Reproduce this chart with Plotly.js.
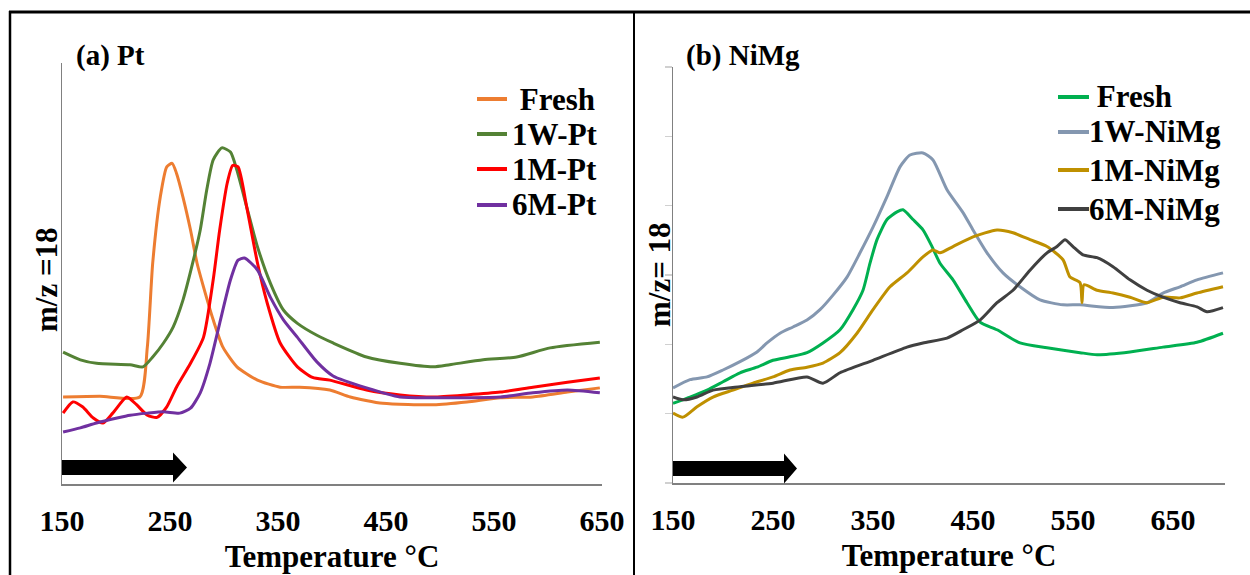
<!DOCTYPE html>
<html>
<head>
<meta charset="utf-8">
<script src="https://cdn.plot.ly/plotly-3.0.1.min.js"></script>
<style>html,body{margin:0;padding:0;background:#fff;}#chart{width:1250px;height:575px;}</style>
</head>
<body>
<div id="chart"></div>
<script>
// ---------- Panel (a) Pt : temperature (°C) and m/z=18 signal (arbitrary units) ----------
const PT_FRESH_T = [151,185,222,229,234,241,247,252,256,262,269,275,281,290,299,312,331,352,370,398,417,447,494,525,556,586,618,648];
const PT_FRESH_V = [12.4,12.5,12.4,19.5,31.5,40.9,45.2,45.7,44.3,40.9,36.2,31.5,28.1,23.4,19.5,16.7,14.8,13.8,13.8,13.4,12.4,11.5,11.3,11.7,12.3,12.4,13.1,13.7];

const PT_1W_T = [151,167,182,213,225,234,244,253,262,271,278,284,290,298,306,312,321,331,343,355,368,386,401,432,463,494,509,540,571,602,648];
const PT_1W_V = [18.8,17.7,17.2,17.0,16.7,18.1,20.1,22.4,26.2,31.5,36.2,41.9,46.2,47.9,47.3,44.7,39.5,33.8,28.6,24.8,22.9,21.2,20.1,18.1,17.2,16.7,17.0,17.7,18.1,19.4,20.2];

const PT_1M_T = [151,160,169,179,188,197,210,219,229,238,247,256,269,281,290,296,303,308,313,321,331,340,352,368,382,398,432,463,494,525,556,586,618,648];
const PT_1M_V = [10.1,11.7,11.0,9.4,8.7,10.1,12.4,11.3,9.8,9.5,11.0,13.8,17.2,20.9,29.1,36.2,42.9,45.4,45.2,39.5,31.5,25.8,20.1,16.7,15.2,14.8,13.4,12.7,12.4,12.7,13.1,13.8,14.5,15.1];

const PT_6M_T = [151,167,182,201,213,229,244,259,269,278,287,296,306,313,319,331,343,355,368,386,401,432,463,494,525,556,586,618,648];
const PT_6M_V = [7.4,8.0,8.7,9.4,9.8,10.1,10.3,10.1,10.8,13.0,17.2,22.9,29.1,31.9,32.2,30.5,26.6,23.4,20.9,17.4,15.4,13.7,12.4,12.3,12.3,12.4,13.0,13.4,13.0];

const PT_NAMES = ['\u00A0Fresh','1W-Pt','1M-Pt','6M-Pt'];
const PT_COLORS = ['#ED7D31','#548235','#FF0000','#7030A0'];

// ---------- Panel (b) NiMg ----------
const NI_FRESH_T = [150,167,184,200,217,234,250,267,284,300,317,330,340,347,354,364,374,380,390,400,409,417,430,444,457,474,497,524,557,574,607,640,674,700];
const NI_FRESH_V = [1.15,1.24,1.34,1.46,1.59,1.67,1.77,1.82,1.88,2.02,2.21,2.50,2.78,3.17,3.51,3.80,3.91,3.94,3.80,3.65,3.41,3.17,2.93,2.60,2.32,2.21,2.02,1.95,1.88,1.85,1.89,1.96,2.03,2.16];

const NI_1W_T = [150,167,184,200,217,234,244,257,270,284,297,310,324,337,350,364,377,387,400,410,424,440,450,464,480,497,517,540,557,590,624,640,657,674,700];
const NI_1W_V = [1.37,1.49,1.53,1.63,1.75,1.89,2.02,2.16,2.25,2.35,2.50,2.71,2.97,3.32,3.69,4.13,4.56,4.73,4.76,4.66,4.23,3.90,3.65,3.32,3.03,2.83,2.64,2.57,2.57,2.53,2.60,2.74,2.83,2.93,3.03];

const NI_1M_T = [150,160,174,190,210,230,250,267,284,300,317,334,350,367,384,400,410,417,430,450,474,490,507,524,540,547,557,559,561,574,590,607,624,640,657,674,700];
const NI_1M_V = [1.01,0.95,1.10,1.24,1.34,1.44,1.53,1.63,1.67,1.73,1.88,2.16,2.50,2.83,3.03,3.26,3.36,3.32,3.41,3.55,3.65,3.61,3.51,3.41,3.22,2.97,2.89,2.60,2.86,2.78,2.74,2.68,2.60,2.68,2.67,2.74,2.83];

const NI_6M_T = [150,160,174,190,217,250,284,300,317,350,384,400,424,440,457,474,490,507,524,534,542,550,560,574,590,607,624,640,657,674,684,700];
const NI_6M_V = [1.24,1.20,1.24,1.34,1.39,1.44,1.53,1.44,1.59,1.77,1.96,2.02,2.09,2.21,2.35,2.60,2.78,3.07,3.32,3.41,3.51,3.41,3.29,3.25,3.12,2.93,2.78,2.68,2.60,2.54,2.47,2.53];

const NI_NAMES = ['\u00A0Fresh','1W-NiMg','1M-NiMg','6M-NiMg'];
const NI_COLORS = ['#00B050','#8497B0','#BF9000','#404040'];

const X_TICKS = [150,250,350,450,550,650];

// ---------- helpers (pixel -> paper) ----------
const W = 1250, H = 575;
const px = x => x / W;
const py = y => 1 - y / H;
const FONT = 'Liberation Serif, Times New Roman, serif';

function tr(t, v, name, color, xa, ya) {
  return {x: t, y: v, name: name, type: 'scatter', mode: 'lines',
          line: {color: color, width: 3, shape: 'spline', smoothing: 0.6},
          xaxis: xa, yaxis: ya, showlegend: false};
}
const data = [
  tr(PT_FRESH_T, PT_FRESH_V, PT_NAMES[0], PT_COLORS[0], 'x', 'y'),
  tr(PT_1W_T, PT_1W_V, PT_NAMES[1], PT_COLORS[1], 'x', 'y'),
  tr(PT_1M_T, PT_1M_V, PT_NAMES[2], PT_COLORS[2], 'x', 'y'),
  tr(PT_6M_T, PT_6M_V, PT_NAMES[3], PT_COLORS[3], 'x', 'y'),
  tr(NI_FRESH_T, NI_FRESH_V, NI_NAMES[0], NI_COLORS[0], 'x2', 'y2'),
  tr(NI_1W_T, NI_1W_V, NI_NAMES[1], NI_COLORS[1], 'x2', 'y2'),
  tr(NI_1M_T, NI_1M_V, NI_NAMES[2], NI_COLORS[2], 'x2', 'y2'),
  tr(NI_6M_T, NI_6M_V, NI_NAMES[3], NI_COLORS[3], 'x2', 'y2')
];

const tickFont = {family: FONT, size: 30, color: '#000', weight: 'bold'};
const titleFont = {family: FONT, size: 31, color: '#000', weight: 'bold'};

function xAxis(domainPx, range, anchor) {
  return {domain: [px(domainPx[0]), px(domainPx[1])], range: range, anchor: anchor,
    tickvals: X_TICKS, ticktext: X_TICKS.map(String), ticks: '', ticklabelstandoff: 9,
    tickfont: tickFont, showline: true, linecolor: '#808080', linewidth: 1.5,
    showgrid: false, zeroline: false, automargin: false,
    title: {text: 'Temperature °C', font: titleFont, standoff: 10}};
}
function yAxis(domainPx, range, anchor, withTicks) {
  const a = {domain: [py(domainPx[0]), py(domainPx[1])], range: range, anchor: anchor,
    showticklabels: false, showline: true, linecolor: '#808080', linewidth: 1.5,
    showgrid: false, zeroline: false, automargin: false};
  if (withTicks) { a.ticks = 'outside'; a.ticklen = 7; a.tickcolor = '#d0d0d0'; a.tickwidth = 1.5; a.dtick = 1; a.tick0 = 0; }
  else { a.ticks = ''; }
  return a;
}

// legend built by hand so that entries sit exactly where the reference has them
const annotations = [];
const shapes = [];
function legend(names, colors, lineX0, lineX1, textX, ys) {
  names.forEach((n, i) => {
    shapes.push({type: 'line', xref: 'paper', yref: 'paper', x0: px(lineX0), x1: px(lineX1),
      y0: py(ys[i]), y1: py(ys[i]), line: {color: colors[i], width: 4}});
    annotations.push({xref: 'paper', yref: 'paper', x: px(textX), y: py(ys[i]), xanchor: 'left', yanchor: 'middle',
      text: n, showarrow: false, font: {family: FONT, size: 31, color: '#000', weight: 'bold'}});
  });
}
legend(PT_NAMES, PT_COLORS, 477, 507, 510, [99, 134, 169, 205]);
legend(NI_NAMES, NI_COLORS, 1058, 1089, 1087, [97, 132, 170, 209]);

// panel labels and y titles
annotations.push({xref: 'paper', yref: 'paper', x: px(74), y: py(55), xanchor: 'left', yanchor: 'middle',
  text: '(a) Pt', showarrow: false, font: {family: FONT, size: 29, color: '#000', weight: 'bold'}});
annotations.push({xref: 'paper', yref: 'paper', x: px(684), y: py(55), xanchor: 'left', yanchor: 'middle',
  text: '(b) NiMg', showarrow: false, font: {family: FONT, size: 29, color: '#000', weight: 'bold'}});
annotations.push({xref: 'paper', yref: 'paper', x: px(46), y: py(280), xanchor: 'center', yanchor: 'middle',
  text: 'm/z =18', textangle: -90, showarrow: false, font: titleFont});
annotations.push({xref: 'paper', yref: 'paper', x: px(659), y: py(275), xanchor: 'center', yanchor: 'middle',
  text: 'm/z= 18', textangle: -90, showarrow: false, font: titleFont});

// heating arrows
function arrowPath(x0, xh, xt, yc) {
  const pts = [[x0, yc - 7.5], [xh, yc - 7.5], [xh, yc - 15], [xt, yc], [xh, yc + 15], [xh, yc + 7.5], [x0, yc + 7.5]];
  return 'M ' + pts.map(p => px(p[0]) + ',' + py(p[1])).join(' L ') + ' Z';
}
shapes.push({type: 'path', xref: 'paper', yref: 'paper', path: arrowPath(62, 173, 187, 467.5), fillcolor: '#000', line: {width: 0}});
shapes.push({type: 'path', xref: 'paper', yref: 'paper', path: arrowPath(673, 784, 797, 468.5), fillcolor: '#000', line: {width: 0}});

// frame
shapes.push({type: 'line', xref: 'paper', yref: 'paper', x0: px(9), x1: 1, y0: py(12), y1: py(12), line: {color: '#000', width: 3}});
shapes.push({type: 'line', xref: 'paper', yref: 'paper', x0: px(10), x1: px(10), y0: py(11), y1: 0, line: {color: '#000', width: 2.5}});
shapes.push({type: 'line', xref: 'paper', yref: 'paper', x0: px(634), x1: px(634), y0: py(11), y1: 0, line: {color: '#000', width: 2}});

const layout = {
  width: W, height: H,
  margin: {l: 0, r: 0, t: 0, b: 0},
  paper_bgcolor: '#fff', plot_bgcolor: 'rgba(0,0,0,0)',
  showlegend: false,
  font: {family: FONT, color: '#000'},
  xaxis: xAxis([62, 602], [150, 650], 'y'),
  yaxis: yAxis([484, 63], [0, 60], 'x', false),
  xaxis2: xAxis([673, 1225], [150, 702], 'y2'),
  yaxis2: yAxis([483, 67], [0, 6], 'x2', true),
  annotations: annotations,
  shapes: shapes
};

Plotly.newPlot('chart', data, layout, {staticPlot: true, displayModeBar: false});
</script>
</body>
</html>
